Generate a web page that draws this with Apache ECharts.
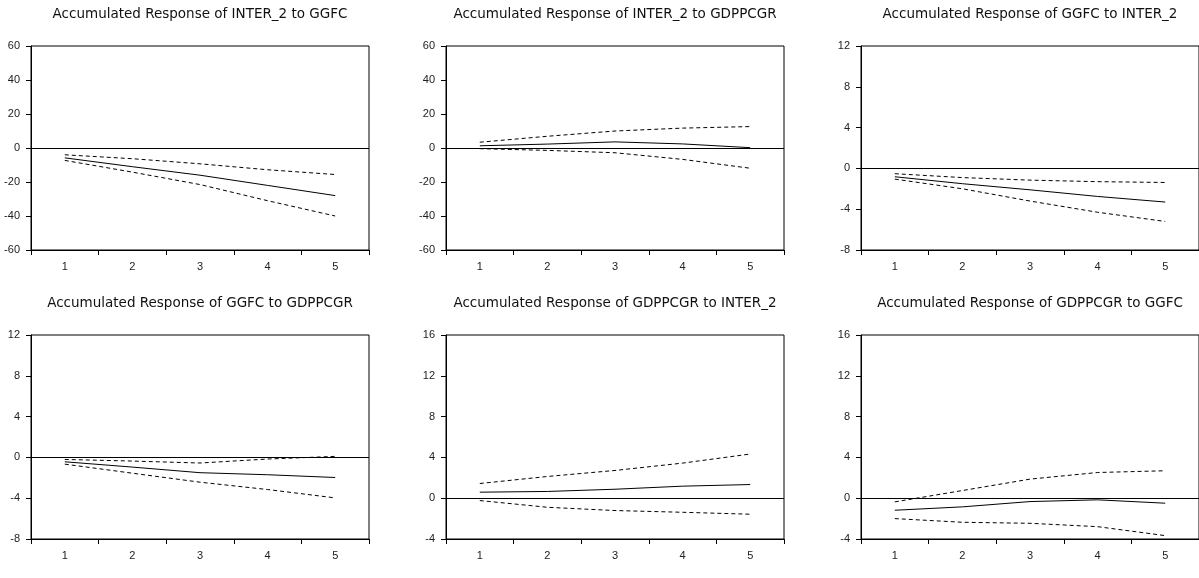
<!DOCTYPE html>
<html>
<head>
<meta charset="utf-8">
<script src="https://cdn.jsdelivr.net/npm/echarts@6/dist/echarts.min.js"></script>
<style>
html,body{margin:0;padding:0;background:#fff;}
#chart{width:1199px;height:578px;}
</style>
</head>
<body>
<div id="chart"></div>
<script>
const periods = ['1','2','3','4','5'];

const titles = [
  'Accumulated Response of INTER_2 to GGFC',
  'Accumulated Response of INTER_2 to GDPPCGR',
  'Accumulated Response of GGFC to INTER_2',
  'Accumulated Response of GGFC to GDPPCGR',
  'Accumulated Response of GDPPCGR to INTER_2',
  'Accumulated Response of GDPPCGR to GGFC'
];

// response, upper band, lower band for each panel
const p1Resp  = [-5.8, -11.0, -16.0, -22.0, -28.0];
const p1Upper = [-4.0, -6.3, -9.3, -12.8, -15.6];
const p1Lower = [-7.3, -14.2, -21.5, -31.0, -40.0];

const p2Resp  = [1.3, 2.3, 3.6, 2.4, 0.2];
const p2Upper = [3.4, 6.9, 10.0, 11.7, 12.6];
const p2Lower = [-0.4, -1.4, -2.8, -6.7, -11.9];

const p3Resp  = [-0.82, -1.5, -2.1, -2.75, -3.3];
const p3Upper = [-0.52, -0.9, -1.15, -1.3, -1.38];
const p3Lower = [-1.05, -2.0, -3.2, -4.3, -5.2];

const p4Resp  = [-0.43, -0.95, -1.5, -1.7, -1.97];
const p4Upper = [-0.2, -0.36, -0.55, -0.16, 0.1];
const p4Lower = [-0.66, -1.55, -2.43, -3.15, -3.97];

const p5Resp  = [0.59, 0.66, 0.88, 1.18, 1.34];
const p5Upper = [1.44, 2.13, 2.72, 3.44, 4.33];
const p5Lower = [-0.23, -0.89, -1.21, -1.38, -1.57];

const p6Resp  = [-1.18, -0.85, -0.33, -0.16, -0.49];
const p6Upper = [-0.36, 0.75, 1.87, 2.52, 2.69];
const p6Lower = [-2.0, -2.36, -2.46, -2.79, -3.67];

const yMins = [-60, -60, -8, -8, -4, -4];
const yMaxs = [60, 60, 12, 12, 16, 16];
const yIntervals = [20, 20, 4, 4, 4, 4];

const panels = [
  [p1Resp, p1Upper, p1Lower],
  [p2Resp, p2Upper, p2Lower],
  [p3Resp, p3Upper, p3Lower],
  [p4Resp, p4Upper, p4Lower],
  [p5Resp, p5Upper, p5Lower],
  [p6Resp, p6Upper, p6Lower]
];

// layout
const lefts = [31, 446, 861];
const widths = [338, 338, 338];
const tops = [46, 335];
const height = 204;
const titleTops = [7, 296];

const FONT = 'Liberation Sans, Arial, sans-serif';
const TFONT = 'DejaVu Sans, sans-serif';
const grids = [], xAxes = [], yAxes = [], series = [], titleOpts = [];

for (let i = 0; i < 6; i++) {
  const col = i % 3, row = Math.floor(i / 3);
  grids.push({
    left: lefts[col], top: tops[row], width: widths[col], height: height,
    show: true, borderColor: '#000', borderWidth: 1, backgroundColor: 'transparent'
  });
  titleOpts.push({
    text: titles[i],
    left: lefts[col] + widths[col] / 2,
    top: titleTops[row],
    textAlign: 'center',
    padding: 0,
    textStyle: { fontFamily: TFONT, fontSize: 13.5, fontWeight: 'normal', color: '#111' }
  });
  xAxes.push({
    type: 'category', gridIndex: i, data: periods, boundaryGap: true,
    axisLine: { onZero: false, lineStyle: { color: '#000', width: 1 } },
    axisTick: { show: true, inside: false, length: 5, lineStyle: { color: '#000' } },
    axisLabel: { fontFamily: FONT, fontSize: 11, color: '#222', margin: 11 },
    splitLine: { show: false }
  });
  yAxes.push({
    type: 'value', gridIndex: i, min: yMins[i], max: yMaxs[i], interval: yIntervals[i],
    axisLine: { show: true, onZero: false, lineStyle: { color: '#000', width: 1 } },
    axisTick: { show: true, inside: false, length: 5, lineStyle: { color: '#000' } },
    axisLabel: { fontFamily: FONT, fontSize: 11, color: '#222', margin: 11 },
    splitLine: { show: false }
  });
  const [resp, up, lo] = panels[i];
  series.push({
    type: 'line', xAxisIndex: i, yAxisIndex: i, data: resp, symbol: 'none',
    lineStyle: { color: '#000', width: 1, type: 'solid' }, silent: true,
    markLine: {
      silent: true, symbol: 'none', label: { show: false },
      lineStyle: { color: '#000', width: 1, type: 'solid' },
      data: [{ yAxis: 0 }]
    }
  });
  series.push({
    type: 'line', xAxisIndex: i, yAxisIndex: i, data: up, symbol: 'none',
    lineStyle: { color: '#000', width: 1, type: [4, 3] }, silent: true
  });
  series.push({
    type: 'line', xAxisIndex: i, yAxisIndex: i, data: lo, symbol: 'none',
    lineStyle: { color: '#000', width: 1, type: [4, 3] }, silent: true
  });
}

const chart = echarts.init(document.getElementById('chart'), null, { renderer: 'canvas' });
chart.setOption({
  animation: false,
  backgroundColor: '#fff',
  title: titleOpts,
  grid: grids,
  xAxis: xAxes,
  yAxis: yAxes,
  series: series
});
</script>
</body>
</html>
